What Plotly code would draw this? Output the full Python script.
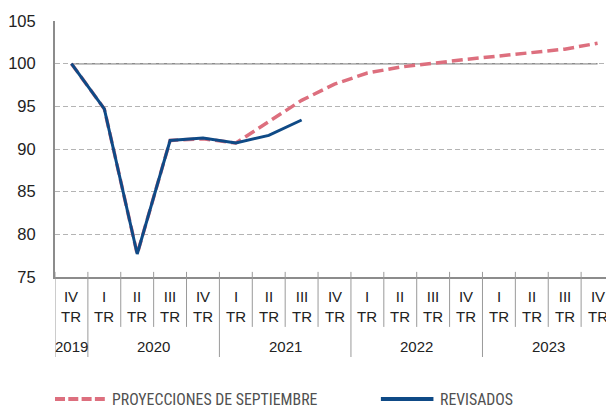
import plotly.graph_objects as go

quarters = ["IV", "I", "II", "III", "IV", "I", "II", "III", "IV",
            "I", "II", "III", "IV", "I", "II", "III", "IV"]
years = [2019, 2020, 2020, 2020, 2020, 2021, 2021, 2021, 2021,
         2022, 2022, 2022, 2022, 2023, 2023, 2023, 2023]
proyecciones = [100, 94.7, 77.7, 91.0, 91.2, 90.7, 93.2, 95.7, 97.6,
                98.9, 99.6, 100.1, 100.5, 100.9, 101.3, 101.7, 102.4]
revisados = [100, 94.7, 77.7, 91.0, 91.3, 90.7, 91.6, 93.4]
y_ticks = [75, 80, 85, 90, 95, 100, 105]
base_level = 100

PINK = "#DD6F7E"
BLUE = "#0F4A86"
GRAY = "#8c8c8c"
FONT = "Liberation Sans, Arial, Helvetica, sans-serif"
NARROW = "Liberation Sans Narrow, Arial Narrow, Roboto Condensed, Liberation Sans, sans-serif"

x = list(range(len(quarters)))
n = len(quarters)

fig = go.Figure()
fig.add_trace(go.Scatter(x=x, y=proyecciones, mode="lines",
                         line=dict(color=PINK, width=3.5, dash="11px,5px"),
                         name="PROYECCIONES DE SEPTIEMBRE", showlegend=False))
fig.add_trace(go.Scatter(x=x[:len(revisados)], y=revisados, mode="lines",
                         line=dict(color=BLUE, width=3),
                         name="REVISADOS", showlegend=False))

shapes = []
# base line at 100 from first to last category
shapes.append(dict(type="line", xref="x", yref="y", x0=x[0], x1=x[-1],
                   y0=base_level, y1=base_level, line=dict(color=GRAY, width=1.5),
                   layer="below"))
# category separators
for i in range(n):
    b = i - 0.5
    year_break = (i == 0) or (years[i] != years[i - 1])
    shapes.append(dict(type="line", xref="x", yref="paper", x0=b, x1=b,
                       y0=0.02, y1=(-0.3125 if year_break else -0.195),
                       line=dict(color="#9a9a9a", width=1)))

annotations = []
for i, q in enumerate(quarters):
    annotations.append(dict(x=i, xref="x", y=-0.115, yref="paper",
                            text=f"{q}<br>TR", showarrow=False,
                            font=dict(family=FONT, size=15, color="#222"),
                            yanchor="middle", xanchor="center"))
# year labels
groups = {}
for i, yv in enumerate(years):
    groups.setdefault(yv, []).append(i)
for yv, idx in groups.items():
    annotations.append(dict(x=(idx[0] + idx[-1]) / 2, xref="x", y=-0.27, yref="paper",
                            text=str(yv), showarrow=False,
                            font=dict(family=FONT, size=15, color="#222"),
                            yanchor="middle", xanchor="center"))

# custom legend
shapes.append(dict(type="line", xref="paper", yref="paper", x0=0.0, x1=0.0891,
                   y0=-0.477, y1=-0.477, line=dict(color=PINK, width=4, dash="10px,3.3px")))
annotations.append(dict(x=0.098, xref="paper", y=-0.477, yref="paper",
                        text="PROYECCIONES DE SEPTIEMBRE", showarrow=False,
                        xanchor="left", yanchor="middle",
                        font=dict(family=NARROW, size=15.8, color="#505050")))
shapes.append(dict(type="line", xref="paper", yref="paper", x0=0.583, x1=0.677,
                   y0=-0.477, y1=-0.477, line=dict(color=BLUE, width=4)))
annotations.append(dict(x=0.6845, xref="paper", y=-0.477, yref="paper",
                        text="REVISADOS", showarrow=False,
                        xanchor="left", yanchor="middle",
                        font=dict(family=NARROW, size=15.8, color="#505050")))

# page body has an 8px margin: size the figure so the plot area lands where the reference has it
fig.update_layout(
    width=606, height=400,
    margin=dict(l=45, r=0, t=13, b=131),
    paper_bgcolor="white", plot_bgcolor="white",
    shapes=shapes, annotations=annotations,
    font=dict(family=FONT, color="#222"),
    xaxis=dict(range=[-0.5, n - 0.5], showticklabels=False, showgrid=False,
               zeroline=False, showline=True, linecolor=GRAY, linewidth=1.5,
               ticks=""),
    yaxis=dict(range=[75, 105], tickvals=y_ticks, showgrid=True,
               gridcolor="#b4b4b4", griddash="5px,3px", gridwidth=1,
               zeroline=False, showline=True, linecolor=GRAY, linewidth=2,
               ticks="", ticklabelstandoff=14,
               tickfont=dict(family=FONT, size=16.5, color="#222")),
)

fig.write_html("out.html")
